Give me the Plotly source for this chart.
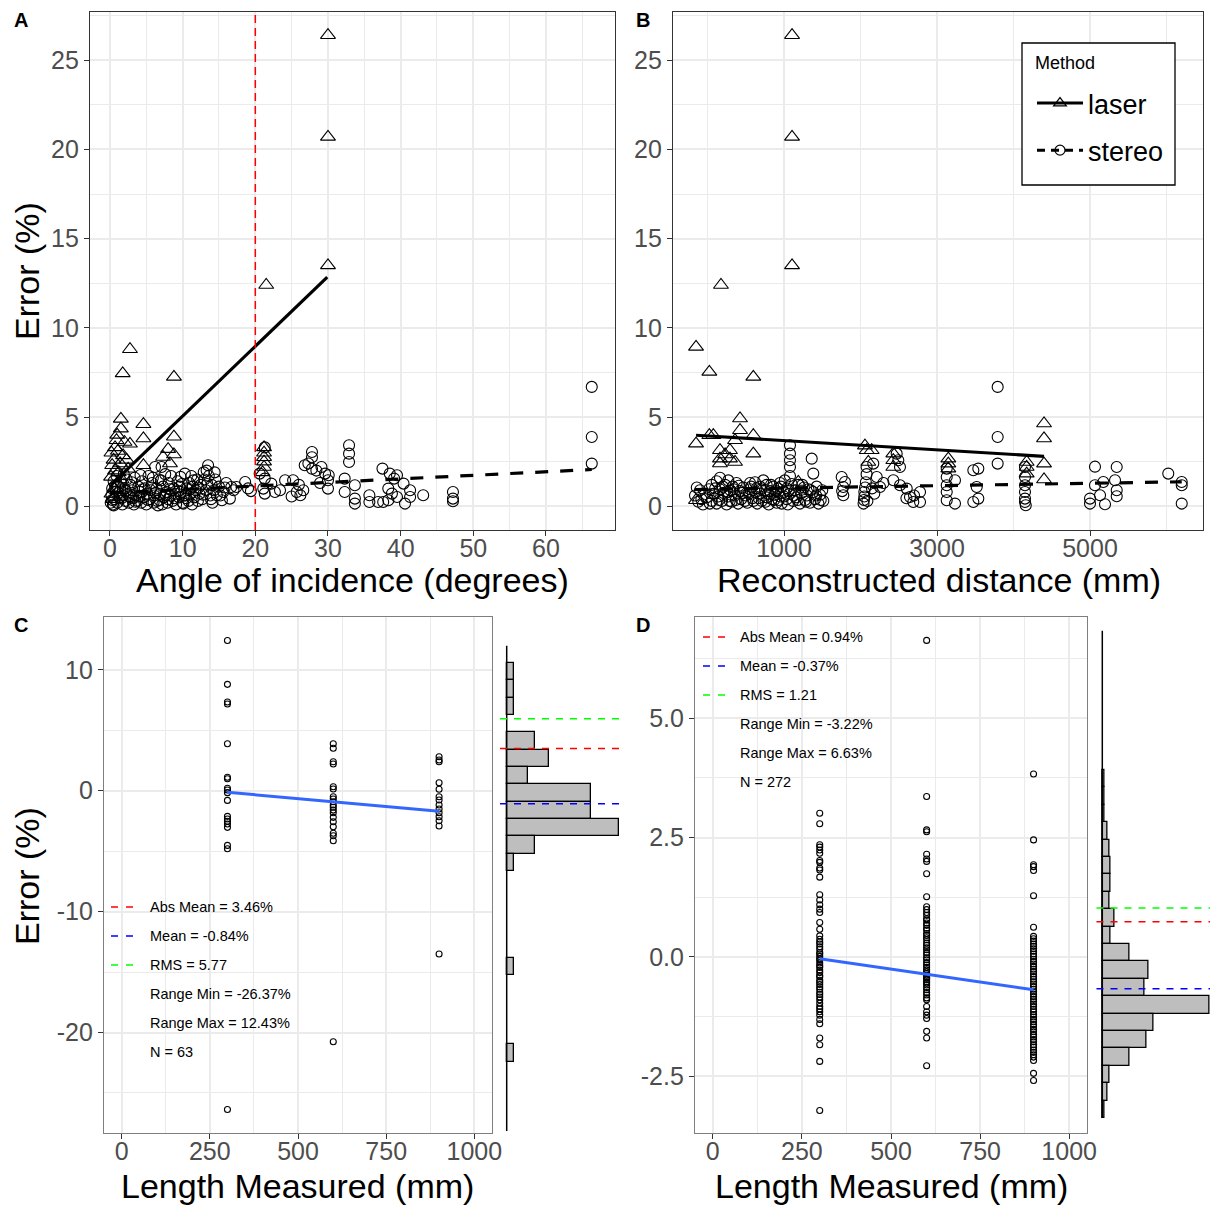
import plotly.graph_objects as go

FONT = "Liberation Sans, Arial, sans-serif"
W, H = 1210, 1205

# ---------------- Panel A: angle of incidence vs |error| ----------------
a_laser = [(30.0, 26.4), (30.0, 20.7), (30.0, 13.5), (21.5, 12.4),
           (2.75, 8.8), (1.75, 7.45), (8.8, 7.25),
           (1.5, 4.9), (4.6, 4.6), (1.5, 4.35), (1.0, 4.0), (2.75, 3.5), (4.6, 3.8),
           (8.8, 3.9), (8.0, 3.2), (8.8, 2.9), (7.3, 2.76), (8.25, 2.4), (4.6, 2.3),
           (0.2, 3.0), (0.7, 3.3), (1.1, 3.1), (1.8, 2.85), (2.3, 2.6), (1.4, 2.4),
           (0.7, 2.0), (2.5, 2.1), (0.15, 1.65), (0.2, 0.7), (0.5, 2.6), (1.0, 1.3),
           (0.3, 2.3), (1.2, 1.9), (0.6, 1.0), (1.6, 1.5), (0.4, 0.4), (2.0, 3.6), (0.9, 3.7),
           (21.2, 3.3), (21.2, 3.0), (21.2, 2.75), (21.2, 2.5), (21.2, 2.2), (21.0, 1.9)]
a_stereo = [(0.1, 0.2), (0.2, 0.6), (0.3, 1.0), (0.4, 0.1), (0.5, 1.4), (0.6, 0.4), (0.8, 0.8),
            (0.9, 1.7), (1.0, 0.2), (1.1, 1.1), (1.3, 0.5), (1.4, 0.9), (1.5, 1.3), (1.7, 0.1),
            (1.8, 0.6), (2.0, 1.0), (2.1, 0.3), (2.3, 1.5), (2.4, 0.7), (2.6, 0.2), (2.8, 1.2),
            (2.9, 0.5), (3.1, 0.9), (3.3, 0.1), (3.4, 1.6), (3.6, 0.6), (3.8, 0.3), (3.9, 1.1),
            (4.1, 0.8), (4.3, 0.2), (4.4, 1.4), (4.6, 0.5), (4.8, 1.0), (5.0, 0.1), (5.1, 0.7),
            (5.3, 1.7), (5.5, 0.4), (5.6, 0.9), (5.8, 1.3), (6.0, 0.2), (6.1, 0.6), (6.2, 2.2),
            (6.4, 1.0), (6.5, 0.3), (6.7, 1.5), (6.9, 0.7), (7.1, 2.2), (7.2, 0.1), (7.3, 1.1),
            (7.4, 0.5), (7.6, 1.8), (7.8, 0.8), (7.9, 0.2), (8.1, 1.3), (8.3, 0.6), (8.4, 1.7),
            (8.6, 0.3), (8.8, 1.0), (9.0, 0.7), (9.1, 0.1), (9.3, 1.4), (9.5, 0.5), (9.6, 1.1),
            (9.8, 0.8), (10.0, 0.2), (10.1, 0.15), (10.3, 1.83), (10.4, 0.6), (10.6, 1.0),
            (10.8, 0.3), (10.9, 1.3), (11.1, 0.7), (11.3, 0.1), (11.4, 1.1), (11.6, 0.5),
            (11.8, 0.9), (12.0, 1.5), (12.1, 0.3), (12.3, 0.7), (12.5, 1.2), (12.7, 0.4),
            (12.9, 1.9), (13.0, 1.5), (13.2, 0.9), (13.3, 2.0), (13.5, 2.3), (13.6, 1.7),
            (13.8, 0.6), (14.0, 1.2), (14.1, 0.2), (14.3, 0.9), (14.5, 1.5), (14.7, 0.62),
            (15.0, 1.1), (15.4, 0.34), (15.6, 0.8), (16.0, 1.3), (16.5, 0.43), (16.7, 1.08),
            (17.0, 0.9), (17.4, 1.08), (18.6, 1.36), (19.0, 1.0), (19.4, 0.85),
            (0.3, 0.35), (0.7, 1.15), (1.2, 0.75), (1.6, 0.45), (2.2, 0.85), (2.7, 0.55),
            (3.0, 1.35), (3.5, 0.25), (4.0, 0.55), (4.5, 0.95), (5.2, 0.35), (5.7, 1.05),
            (6.3, 0.75), (6.8, 0.35), (7.0, 1.45), (7.7, 0.6), (8.2, 0.95), (8.9, 0.45),
            (9.4, 0.85), (9.9, 1.25), (10.5, 0.45), (11.0, 0.95), (11.5, 1.45), (12.2, 1.05),
            (12.8, 0.65), (13.4, 1.25), (13.9, 0.4), (14.4, 1.9), (15.2, 0.6), (15.8, 1.05),
            (1.9, 1.8), (4.2, 1.75), (5.9, 1.6), (9.7, 1.65), (11.2, 1.7), (0.5, 0.05),
            (3.2, 0.45), (6.6, 0.05), (8.0, 0.4), (10.2, 0.6),
            (21.3, 3.3), (20.6, 1.83), (21.3, 1.55), (21.1, 0.99), (21.3, 0.71), (22.2, 1.27),
            (22.7, 0.8), (23.4, 0.9), (24.1, 1.46), (25.2, 1.46), (25.7, 0.8), (26.2, 0.62),
            (26.6, 0.9), (26.8, 2.3), (27.3, 2.4), (27.8, 2.1), (27.8, 3.04), (27.8, 2.75),
            (28.4, 2.0), (29.1, 2.2), (29.6, 1.83), (30.0, 1.46), (30.0, 0.99), (30.1, 1.74),
            (26.0, 1.2), (25.0, 0.55), (28.9, 1.3),
            (32.9, 3.42), (32.9, 2.95), (32.9, 2.48), (32.3, 1.55), (32.3, 0.8), (33.7, 1.18),
            (33.7, 0.43), (33.7, 0.15), (35.7, 0.62), (35.7, 0.24), (37.5, 2.11), (36.9, 0.24),
            (37.6, 0.24), (38.3, 0.34), (38.5, 1.83), (39.1, 1.55), (39.5, 1.74), (38.3, 0.99),
            (38.8, 0.71), (39.5, 0.52), (40.4, 1.27), (41.3, 0.9), (41.3, 0.52), (40.6, 0.15),
            (43.1, 0.62), (47.2, 0.8), (47.2, 0.43), (47.2, 0.28),
            (66.3, 6.69), (66.3, 3.88), (66.3, 2.39)]
a_laser_fit = [(0.15, 1.2), (29.9, 12.84)]
a_stereo_fit = [(0.1, 0.74), (66.3, 2.06)]
a_threshold_angle = 20

# ---------------- Panel B: reconstructed distance vs |error| ----------------
b_laser = [(1105, 26.4), (1105, 20.7), (1105, 13.5), (176, 12.4), (-150, 8.93), (24, 7.53),
           (599, 7.25), (425, 4.92), (425, 4.26), (-150, 3.51), (24, 3.98), (76, 3.98),
           (360, 3.7), (599, 3.98), (599, 2.95), (163, 3.14), (163, 2.67), (294, 3.14),
           (294, 2.67), (360, 2.48), (230, 2.9), (163, 2.4), (-150, 0.34), (1187, 1.36),
           (2081, 3.14), (2146, 3.14), (2102, 2.48), (2058, 3.4), (2429, 2.95), (2429, 2.58),
           (2429, 2.2), (3148, 2.67), (3148, 2.39), (3148, 2.11), (4172, 2.48), (4172, 2.2),
           (4172, 1.83), (4399, 4.64), (4399, 3.8), (4399, 2.39), (4399, 1.5)]
b_stereo = [(-163, 0.6), (-120, 0.25), (-98, 0.9), (-60, 0.1), (-10, 0.5), (20, 0.95), (55, 0.3),
            (55, 1.2), (90, 0.7), (120, 0.15), (120, 1.4), (140, 0.55), (163, 0.95), (163, 1.6),
            (190, 0.3), (207, 0.75), (230, 1.2), (250, 0.1), (272, 0.55), (272, 1.45), (300, 0.9),
            (316, 0.25), (330, 1.1), (359, 0.6), (380, 1.3), (400, 0.15), (425, 0.85), (440, 0.4),
            (468, 1.05), (500, 0.6), (520, 0.2), (556, 0.95), (556, 1.3), (590, 0.45), (621, 0.8),
            (621, 1.35), (650, 0.15), (686, 0.7), (686, 1.1), (710, 0.3), (730, 1.45), (750, 0.9),
            (773, 0.5), (773, 1.2), (800, 0.1), (817, 0.85), (840, 0.4), (860, 1.1), (880, 0.65),
            (904, 0.2), (920, 1.0), (948, 0.55), (948, 1.3), (970, 0.15), (991, 0.8), (1010, 1.45),
            (1035, 0.4), (1035, 1.0), (1050, 0.1), (1078, 3.42), (1078, 2.95), (1078, 2.58),
            (1078, 2.2), (1078, 1.7), (1078, 0.7), (1100, 1.25), (1120, 0.3), (1144, 0.9),
            (1160, 0.5), (1190, 1.2), (1209, 0.15), (1230, 0.75), (1260, 1.05), (1275, 0.35),
            (1300, 0.6), (1320, 0.95), (1340, 0.2), (1362, 2.67), (1383, 1.83), (1383, 0.8),
            (1405, 0.4), (1427, 1.1), (1450, 0.15), (1471, 0.65), (1500, 0.9), (1514, 0.3),
            (-140, 1.05), (-80, 0.4), (30, 0.15), (70, 0.7), (100, 1.0), (150, 0.35), (200, 1.1),
            (260, 0.8), (290, 0.3), (340, 0.95), (370, 0.35), (410, 1.15), (455, 0.75), (490, 0.3),
            (540, 0.7), (570, 1.1), (600, 0.3), (640, 1.0), (670, 0.45), (700, 0.95), (760, 0.25),
            (790, 0.7), (830, 1.2), (870, 0.35), (900, 0.85), (930, 0.35), (960, 1.1), (1000, 0.55),
            (1060, 0.85), (1130, 0.6), (1180, 0.35), (1240, 1.2), (1290, 0.25), (1350, 0.9),
            (1420, 0.6), (1480, 0.35),
            (1754, 1.64), (1797, 1.36), (1775, 1.08), (1775, 0.62), (1760, 0.85),
            (2040, 0.15), (2045, 0.35), (2050, 0.55), (2050, 0.8), (2060, 1.05), (2070, 1.35),
            (2080, 1.8), (2080, 2.2), (2090, 0.3),
            (2167, 2.39), (2212, 1.64), (2255, 1.08), (2473, 2.95), (2494, 2.58), (2516, 2.2),
            (2429, 1.46), (2516, 1.18), (2604, 0.99), (2647, 0.52), (2690, 0.24), (2778, 0.24),
            (2778, 0.8), (2600, 0.45), (2700, 0.6), (2300, 1.3), (2180, 0.7), (2150, 1.0),
            (3127, 2.11), (3127, 1.64), (3127, 1.18), (3127, 0.8), (3127, 0.34), (3235, 1.46),
            (3235, 0.15), (3475, 2.02), (3540, 2.11), (3519, 1.08), (3475, 0.24), (3540, 0.43),
            (3793, 6.69), (3793, 3.88), (3793, 2.39),
            (4150, 2.2), (4150, 1.64), (4150, 1.18), (4150, 0.8), (4150, 0.43), (4150, 0.24),
            (4160, 0.06),
            (5065, 2.22), (5349, 2.2), (5174, 1.36), (5327, 1.46), (5065, 1.18), (5349, 0.9),
            (5349, 0.56), (5000, 0.43), (5000, 0.15), (5196, 0.11), (5131, 0.62),
            (6023, 1.83), (6199, 1.36), (6199, 1.18), (6199, 0.15)]
b_laser_fit = [(-150, 3.98), (4399, 2.80)]
b_stereo_fit = [(-163, 0.94), (6199, 1.37)]

# ---------------- Panel C: laser, length measured vs error ----------------
c_lengths = [300, 600, 900]
c_err_300 = [12.43, 8.80, 7.34, 7.17, 3.89, 1.11, 0.99, 0.20, 0.06, -0.16, -0.80, -2.12, -2.34,
             -2.53, -2.75, -3.03, -4.52, -4.80, -26.37]
c_err_600 = [3.89, 3.51, 2.40, 2.21, 0.33, 0.14, -0.50, -0.69, -0.91, -1.18, -1.37, -1.60, -1.82,
             -2.20, -2.56, -2.98, -3.52, -3.72, -4.14, -20.76]
c_err_900 = [2.81, 2.54, 2.40, 0.66, 0.12, -0.50, -0.77, -1.18, -1.51, -1.82, -2.15, -2.48, -2.92,
             -13.51]
c_fit_x = [300, 900]
c_fit_y = [-0.13, -1.70]
c_hist_centers = [9.40, 8.06, 6.72, 4.03, 2.69, 1.34, 0.00, -1.35, -2.69, -4.03, -5.38, -13.44, -20.16]
c_hist_counts = [1, 1, 1, 4, 6, 3, 12, 12, 16, 4, 1, 1, 1]
c_hist_binwidth = 1.3437
c_hist_top, c_hist_bottom = 11.42, -26.20
c_stat_labels = ["Abs Mean = 3.46%", "Mean = -0.84%", "RMS = 5.77",
                 "Range Min = -26.37%", "Range Max = 12.43%", "N = 63"]
c_stat_values = [3.46, -0.84, 5.77]

# ---------------- Panel D: stereo, length measured vs error ----------------
d_err_300 = [3.01, 2.79, 2.35, 2.30, 2.24, 2.17, 2.02, 1.98, 1.86, 1.82, 1.67, 1.30, 1.19, 1.09,
             1.00, 0.93, 0.72, 0.58, 0.44, 0.37, 0.31, 0.27, 0.21, 0.16, 0.09, 0.06, 0.01, -0.04,
             -0.07, -0.13, -0.18, -0.22, -0.28, -0.33, -0.39, -0.42, -0.49, -0.53, -0.58, -0.63,
             -0.68, -0.74, -0.79, -0.84, -0.90, -0.97, -1.04, -1.09, -1.15, -1.22, -1.31, -1.40,
             -1.70, -1.84, -2.19, -3.22]
d_err_600 = [6.63, 3.36, 2.66, 2.62, 2.15, 2.05, 2.00, 1.74, 1.26, 1.05, 0.99, 0.93, 0.87, 0.80,
             0.77, 0.71, 0.66, 0.60, 0.56, 0.49, 0.45, 0.40, 0.36, 0.29, 0.24, 0.19, 0.15, 0.09,
             0.04, -0.02, -0.06, -0.12, -0.17, -0.22, -0.27, -0.31, -0.35, -0.38, -0.42, -0.45,
             -0.48, -0.52, -0.55, -0.59, -0.64, -0.69, -0.75, -0.80, -0.86, -0.90, -1.04, -1.15,
             -1.22, -1.29, -1.56, -1.70, -2.28]
d_err_900 = [3.83, 2.45, 1.93, 1.89, 1.81, 1.28, 0.62, 0.43, 0.38, 0.33, 0.27, 0.22, 0.17, 0.12,
             0.06, 0.01, -0.05, -0.10, -0.15, -0.20, -0.26, -0.31, -0.36, -0.41, -0.47, -0.52,
             -0.57, -0.62, -0.68, -0.73, -0.78, -0.83, -0.89, -0.94, -0.99, -1.04, -1.10, -1.15,
             -1.21, -1.26, -1.31, -1.36, -1.42, -1.47, -1.52, -1.57, -1.63, -1.68, -1.73, -1.78,
             -1.84, -1.89, -1.95, -2.00, -2.05, -2.10, -2.17, -2.44, -2.59]
d_fit_x = [300, 900]
d_fit_y = [-0.04, -0.69]
d_hist_centers = [3.739, 3.398, 3.058, 2.717, 2.377, 2.036, 1.696, 1.355, 1.014, 0.674, 0.333,
                  -0.007, -0.348, -0.688, -1.029, -1.370, -1.710, -2.051, -2.391, -2.732]
d_hist_counts = [1, 1, 1, 3, 4, 5, 5, 4, 7, 5, 16, 27, 25, 63, 30, 26, 16, 4, 3, 1]
d_hist_binwidth = 0.3406
d_hist_top, d_hist_bottom = 6.634, -2.90
d_stat_labels = ["Abs Mean = 0.94%", "Mean = -0.37%", "RMS = 1.21",
                 "Range Min = -3.22%", "Range Max = 6.63%", "N = 272"]
d_stat_values = [0.94, -0.37, 1.21]

stat_colors = ["#FF0000", "#0000FF", "#00FF00"]


def unzip(pairs):
    return [p[0] for p in pairs], [p[1] for p in pairs]


def dx(a, b):
    return [a / W, b / W]


def dy(top, bottom):
    return [1 - bottom / H, 1 - top / H]


fig = go.Figure()

circle_big = dict(symbol="circle-open", size=11, color="black", line=dict(width=1.1, color="black"))
tri_big = dict(symbol="triangle-up-open", size=13, color="black", line=dict(width=1.1, color="black"))
circle_small = dict(symbol="circle-open", size=6, color="black", line=dict(width=1.1, color="black"))

# Panel A
x, y = unzip(a_stereo)
fig.add_trace(go.Scatter(x=x, y=y, mode="markers", marker=circle_big, xaxis="x", yaxis="y", showlegend=False))
x, y = unzip(a_laser)
fig.add_trace(go.Scatter(x=x, y=y, mode="markers", marker=tri_big, xaxis="x", yaxis="y", showlegend=False))
x, y = unzip(a_laser_fit)
fig.add_trace(go.Scatter(x=x, y=y, mode="lines", line=dict(color="black", width=3.2), xaxis="x", yaxis="y", showlegend=False))
x, y = unzip(a_stereo_fit)
fig.add_trace(go.Scatter(x=x, y=y, mode="lines", line=dict(color="black", width=3.2, dash="13px,12px"), xaxis="x", yaxis="y", showlegend=False))

# Panel B
x, y = unzip(b_stereo)
fig.add_trace(go.Scatter(x=x, y=y, mode="markers", marker=circle_big, xaxis="x2", yaxis="y2", showlegend=False))
x, y = unzip(b_laser)
fig.add_trace(go.Scatter(x=x, y=y, mode="markers", marker=tri_big, xaxis="x2", yaxis="y2", showlegend=False))
x, y = unzip(b_laser_fit)
fig.add_trace(go.Scatter(x=x, y=y, mode="lines", line=dict(color="black", width=3.2), xaxis="x2", yaxis="y2", showlegend=False))
x, y = unzip(b_stereo_fit)
fig.add_trace(go.Scatter(x=x, y=y, mode="lines", line=dict(color="black", width=3.2, dash="13px,12px"), xaxis="x2", yaxis="y2", showlegend=False))

# legend-only entries
fig.add_trace(go.Scatter(x=[None], y=[None], mode="lines+markers", name="laser", legendgroup="laser",
                         line=dict(color="black", width=3), marker=dict(symbol="triangle-up-open", size=11, color="black", line=dict(width=1.2)),
                         xaxis="x2", yaxis="y2"))
fig.add_trace(go.Scatter(x=[None], y=[None], mode="lines+markers", name="stereo", legendgroup="stereo",
                         line=dict(color="black", width=3, dash="8px,6px"), marker=dict(symbol="circle-open", size=10, color="black", line=dict(width=1.2)),
                         xaxis="x2", yaxis="y2"))

# Panel C
c_x = [c_lengths[0]] * len(c_err_300) + [c_lengths[1]] * len(c_err_600) + [c_lengths[2]] * len(c_err_900)
c_y = c_err_300 + c_err_600 + c_err_900
fig.add_trace(go.Scatter(x=c_x, y=c_y, mode="markers", marker=circle_small, xaxis="x3", yaxis="y3", showlegend=False))
fig.add_trace(go.Scatter(x=c_fit_x, y=c_fit_y, mode="lines", line=dict(color="#3366FF", width=3), xaxis="x3", yaxis="y3", showlegend=False))
fig.add_trace(go.Bar(x=c_hist_counts, y=c_hist_centers, orientation="h", width=c_hist_binwidth,
                     marker=dict(color="#BEBEBE", line=dict(color="black", width=1.3)), xaxis="x4", yaxis="y4", showlegend=False))
fig.add_trace(go.Scatter(x=[0, 0], y=[c_hist_top, c_hist_bottom], mode="lines", line=dict(color="black", width=1.5),
                         xaxis="x4", yaxis="y4", showlegend=False))

# Panel D
d_x = [c_lengths[0]] * len(d_err_300) + [c_lengths[1]] * len(d_err_600) + [c_lengths[2]] * len(d_err_900)
d_y = d_err_300 + d_err_600 + d_err_900
fig.add_trace(go.Scatter(x=d_x, y=d_y, mode="markers", marker=circle_small, xaxis="x5", yaxis="y5", showlegend=False))
fig.add_trace(go.Scatter(x=d_fit_x, y=d_fit_y, mode="lines", line=dict(color="#3366FF", width=3), xaxis="x5", yaxis="y5", showlegend=False))
fig.add_trace(go.Bar(x=d_hist_counts, y=d_hist_centers, orientation="h", width=d_hist_binwidth,
                     marker=dict(color="#BEBEBE", line=dict(color="black", width=1.3)), xaxis="x6", yaxis="y6", showlegend=False))
fig.add_trace(go.Scatter(x=[0, 0], y=[d_hist_top, d_hist_bottom], mode="lines", line=dict(color="black", width=1.5),
                         xaxis="x6", yaxis="y6", showlegend=False))

GRID = "#EBEBEB"
tickfont = dict(family=FONT, size=25, color="#4D4D4D")


def panel_axis(domain, rng, tickvals, ticktext, minor_vals, anchor, linecolor="#333333", standoff=0):
    return dict(domain=domain, range=rng, anchor=anchor, tickmode="array", tickvals=tickvals, ticktext=ticktext,
                showline=True, mirror=True, linecolor=linecolor, linewidth=1.2,
                ticks="outside", ticklen=5, tickwidth=1.2, tickcolor="#333333",
                showgrid=True, gridcolor=GRID, gridwidth=1.6, zeroline=False,
                tickfont=tickfont, ticklabelstandoff=standoff,
                minor=dict(tickmode="array", tickvals=minor_vals, showgrid=True, gridcolor=GRID, gridwidth=0.8, ticks=""))


XSO = -9
fig.update_layout(
    width=W, height=H, autosize=False, margin=dict(l=0, r=0, t=0, b=0, autoexpand=False),
    paper_bgcolor="white", plot_bgcolor="white",
    font=dict(family=FONT, color="black"),
    bargap=0,
    xaxis=panel_axis(dx(90, 615), [-2.75, 69.5], [0, 10, 20, 30, 40, 50, 60], ["0", "10", "20", "30", "40", "50", "60"],
                     [5, 15, 25, 35, 45, 55, 65], "y", standoff=XSO),
    yaxis=panel_axis(dy(12, 530), [-1.33, 27.7], [0, 5, 10, 15, 20, 25], ["0", "5", "10", "15", "20", "25"],
                     [2.5, 7.5, 12.5, 17.5, 22.5, 27.5], "x"),
    xaxis2=panel_axis(dx(673, 1203), [-451, 6477], [1000, 3000, 5000], ["1000", "3000", "5000"],
                      [0, 2000, 4000, 6000], "y2", standoff=XSO),
    yaxis2=panel_axis(dy(12, 530), [-1.33, 27.7], [0, 5, 10, 15, 20, 25], ["0", "5", "10", "15", "20", "25"],
                      [2.5, 7.5, 12.5, 17.5, 22.5, 27.5], "x2"),
    xaxis3=panel_axis(dx(104, 492), [-50, 1050], [0, 250, 500, 750, 1000], ["0", "250", "500", "750", "1000"],
                      [125, 375, 625, 875], "y3", linecolor="#7F7F7F", standoff=XSO),
    yaxis3=panel_axis(dy(617, 1133), [-28.31, 14.37], [-20, -10, 0, 10], ["-20", "-10", "0", "10"],
                      [-25, -15, -5, 5], "x3", linecolor="#7F7F7F"),
    xaxis4=dict(domain=dx(500, 625), range=[-0.957, 16.9], anchor="y4", visible=False),
    yaxis4=dict(domain=dy(617, 1133), range=[-26.36, 13.65], anchor="x4", visible=False),
    xaxis5=panel_axis(dx(695, 1087), [-50, 1050], [0, 250, 500, 750, 1000], ["0", "250", "500", "750", "1000"],
                      [125, 375, 625, 875], "y5", linecolor="#7F7F7F", standoff=XSO),
    yaxis5=panel_axis(dy(617, 1133), [-3.69, 7.12], [-2.5, 0, 2.5, 5.0], ["-2.5", "0.0", "2.5", "5.0"],
                      [-1.25, 1.25, 3.75, 6.25], "x5", linecolor="#7F7F7F"),
    xaxis6=dict(domain=dx(1096.5, 1210), range=[-3.41, 63.35], anchor="y6", visible=False),
    yaxis6=dict(domain=dy(617, 1133), range=[-3.195, 6.904], anchor="x6", visible=False),
    legend=dict(x=1032 / W, y=1 - 79 / H, xanchor="left", yanchor="top", borderwidth=0,
                bgcolor="rgba(0,0,0,0)", font=dict(family=FONT, size=27, color="black"),
                tracegroupgap=9, itemwidth=46),
)

shapes = []
annotations = []

# red threshold line panel A
shapes.append(dict(type="line", xref="x", yref="y domain", x0=a_threshold_angle, x1=a_threshold_angle, y0=0, y1=1,
                   line=dict(color="#FF0000", width=1.5, dash="8px,5px")))

# stat lines on histograms
for v, col in zip(c_stat_values, stat_colors):
    shapes.append(dict(type="line", xref="x4 domain", yref="y4", x0=0, x1=1, y0=v, y1=v,
                       line=dict(color=col, width=1.5, dash="7px,7px")))
for v, col in zip(d_stat_values, stat_colors):
    shapes.append(dict(type="line", xref="x6 domain", yref="y6", x0=0, x1=1, y0=v, y1=v,
                       line=dict(color=col, width=1.5, dash="7px,7px")))

# legend box (panel B)
shapes.append(dict(type="rect", xref="paper", yref="paper", x0=1022 / W, x1=1175 / W, y0=1 - 185 / H, y1=1 - 43 / H,
                   fillcolor="white", line=dict(color="black", width=1.3), layer="above"))
annotations.append(dict(text="Method", xref="paper", yref="paper", x=1033 / W, y=1 - 63 / H, xanchor="left",
                        yanchor="middle", showarrow=False, font=dict(family=FONT, size=18, color="black")))


# stats text blocks
def stats_block(labels, x_text, x_dash0, y0):
    for i, lab in enumerate(labels):
        yy = y0 + 29 * i
        annotations.append(dict(text=lab, xref="paper", yref="paper", x=x_text / W, y=1 - yy / H,
                                xanchor="left", yanchor="middle", showarrow=False,
                                font=dict(family=FONT, size=14.5, color="black")))
        if i < 3:
            shapes.append(dict(type="line", xref="paper", yref="paper", x0=x_dash0 / W, x1=(x_dash0 + 23) / W,
                               y0=1 - yy / H, y1=1 - yy / H,
                               line=dict(color=stat_colors[i], width=1.5, dash="7px,8px")))


stats_block(c_stat_labels, 148, 111, 907)
stats_block(d_stat_labels, 738, 703, 637)

title_font = dict(family=FONT, size=34, color="black")
for txt, xc, yc, ang in [("Error (%)", 27, 271, -90), ("Error (%)", 27, 876, -90),
                         ("Angle of incidence (degrees)", 352, 580, 0),
                         ("Reconstructed distance (mm)", 939, 580, 0),
                         ("Length Measured (mm)", 297, 1186, 0),
                         ("Length Measured (mm)", 891, 1186, 0)]:
    annotations.append(dict(text=txt, xref="paper", yref="paper", x=xc / W, y=1 - yc / H, xanchor="center",
                            yanchor="middle", showarrow=False, textangle=ang, font=title_font))

for txt, xc, yc in [("A", 21, 20), ("B", 643, 20), ("C", 21, 625), ("D", 643, 625)]:
    annotations.append(dict(text="<b>%s</b>" % txt, xref="paper", yref="paper", x=xc / W, y=1 - yc / H,
                            xanchor="center", yanchor="middle", showarrow=False,
                            font=dict(family=FONT, size=20, color="black")))

fig.update_layout(shapes=shapes, annotations=annotations)
fig.write_html("out.html", config={"responsive": False},
               post_script="document.body.style.margin='0';document.body.style.overflow='hidden';")
